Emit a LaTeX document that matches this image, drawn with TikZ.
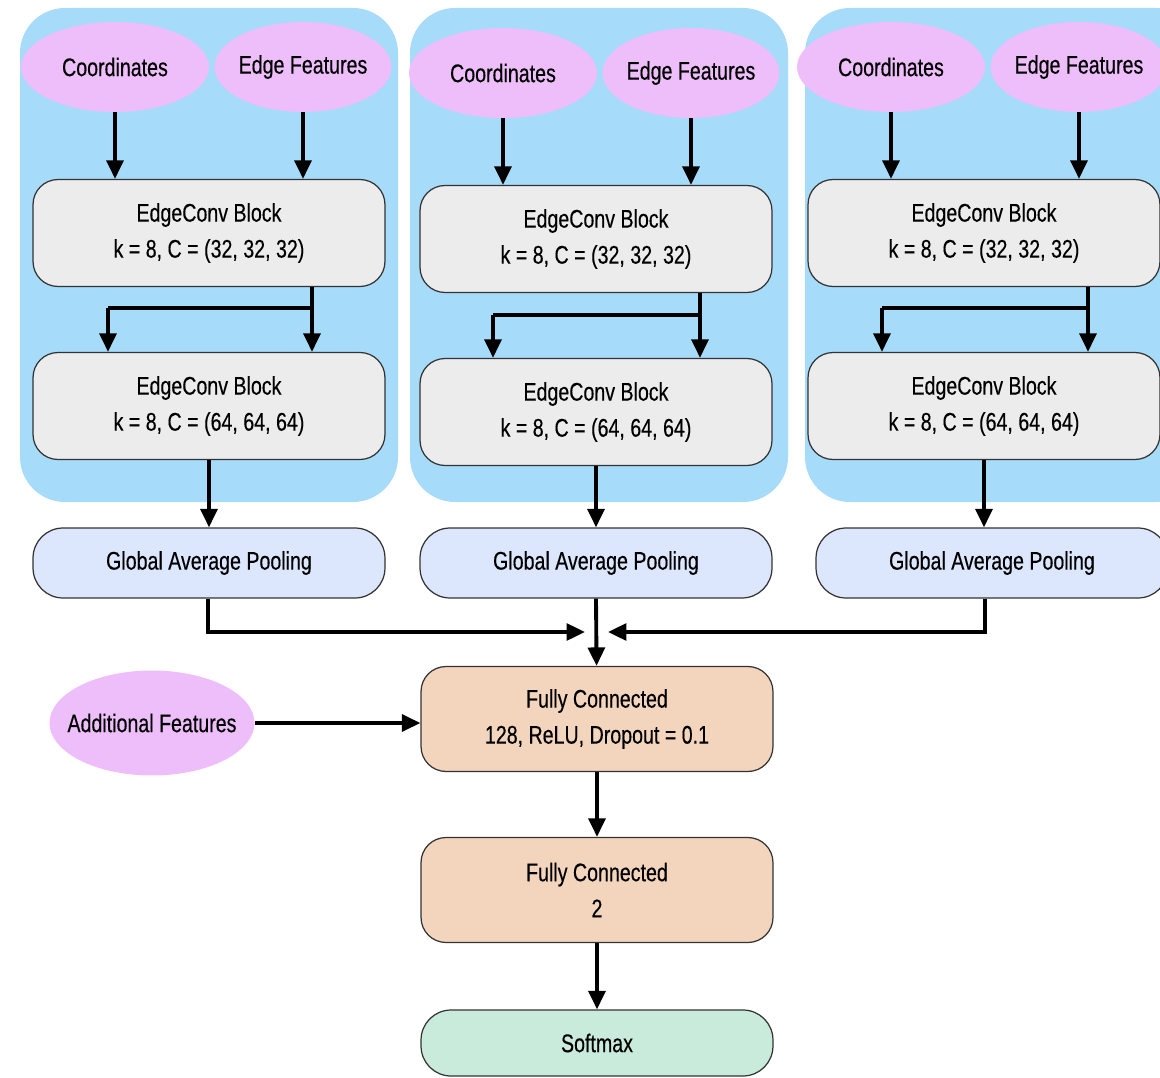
\documentclass[tikz,border=0pt]{standalone}
\usepackage{fontspec}
\setmainfont[FakeStretch=0.77,FakeBold=0.3]{Liberation Sans}
\usepackage{tikz}
\usetikzlibrary{arrows.meta,shapes.geometric}

\definecolor{panelblue}{RGB}{166,219,250}
\definecolor{featpink}{RGB}{238,190,251}
\definecolor{blockgray}{RGB}{236,236,236}
\definecolor{poolblue}{RGB}{220,230,252}
\definecolor{fcpeach}{RGB}{243,212,188}
\definecolor{softgreen}{RGB}{201,235,219}

\tikzset{
  panel/.style={fill=panelblue, rounded corners=0.9cm},
  feat/.style={ellipse, fill=featpink, inner sep=0pt, minimum height=1.8cm,
    font=\fontsize{14.5pt}{20.5pt}\selectfont},
  block/.style={draw=black!80, line width=0.7pt, fill=blockgray, rounded corners=0.5cm,
    minimum width=7.04cm, minimum height=2.14cm, inner sep=0pt, align=center,
    font=\fontsize{14.5pt}{20.5pt}\selectfont},
  pool/.style={block, fill=poolblue, rounded corners=0.6cm, minimum height=1.4cm},
  fcbox/.style={block, fill=fcpeach, minimum height=2.1cm},
  softbox/.style={block, fill=softgreen, rounded corners=0.6cm, minimum height=1.32cm},
  link/.style={line width=2.2pt},
  arrow/.style={link, -{Triangle[length=10.5pt,width=9.5pt]}}
}

\begin{document}
\begin{tikzpicture}[x=0.02cm, y=-0.02cm]
\useasboundingbox (0,0) rectangle (1160,1078);
\clip (0,0) rectangle (1160,1078);

% panels
\fill[panel] (20,8) rectangle (398,502);
\fill[panel] (410,8) rectangle (788,502);
\fill[panel] (805,8) rectangle (1200,502);

% first branch
\node[feat, minimum width=3.76cm] (c1) at (115,67) {Coordinates};
\node[feat, minimum width=3.54cm, inner xsep=-3pt] (e1) at (303,67) {Edge Features};
\node[block] (b1a) at (209,233) {EdgeConv Block\\k = 8, C = (32, 32, 32)};
\node[block] (b1b) at (209,406) {EdgeConv Block\\k = 8, C = (64, 64, 64)};
\node[pool] (g1) at (209,563) {Global Average Pooling};
\draw[arrow] (c1) -- (c1 |- b1a.north);
\draw[arrow] (e1) -- (e1 |- b1a.north);
\coordinate (s1) at (312,308);
\coordinate (t1) at (108,308);
\draw[link] (s1 |- b1a.south) -- (s1) -- (t1);
\draw[arrow] (s1) -- (s1 |- b1b.north);
\draw[arrow] (t1) -- (t1 |- b1b.north);
\draw[arrow] (b1b) -- (g1);

% second branch
\node[feat, minimum width=3.76cm] (c2) at (503,73) {Coordinates};
\node[feat, minimum width=3.54cm, inner xsep=-3pt] (e2) at (691,73) {Edge Features};
\node[block] (b2a) at (596,239) {EdgeConv Block\\k = 8, C = (32, 32, 32)};
\node[block] (b2b) at (596,412) {EdgeConv Block\\k = 8, C = (64, 64, 64)};
\node[pool] (g2) at (596,563) {Global Average Pooling};
\draw[arrow] (c2) -- (c2 |- b2a.north);
\draw[arrow] (e2) -- (e2 |- b2a.north);
\coordinate (s2) at (700,315);
\coordinate (t2) at (493,315);
\draw[link] (s2 |- b2a.south) -- (s2) -- (t2);
\draw[arrow] (s2) -- (s2 |- b2b.north);
\draw[arrow] (t2) -- (t2 |- b2b.north);
\draw[arrow] (b2b) -- (g2);

% third branch
\node[feat, minimum width=3.76cm] (c3) at (891,67) {Coordinates};
\node[feat, minimum width=3.54cm, inner xsep=-3pt] (e3) at (1079,67) {Edge Features};
\node[block] (b3a) at (984,233) {EdgeConv Block\\k = 8, C = (32, 32, 32)};
\node[block] (b3b) at (984,406) {EdgeConv Block\\k = 8, C = (64, 64, 64)};
\node[pool] (g3) at (992,563) {Global Average Pooling};
\draw[arrow] (c3) -- (c3 |- b3a.north);
\draw[arrow] (e3) -- (e3 |- b3a.north);
\coordinate (s3) at (1088,308);
\coordinate (t3) at (882,308);
\draw[link] (s3 |- b3a.south) -- (s3) -- (t3);
\draw[arrow] (s3) -- (s3 |- b3b.north);
\draw[arrow] (t3) -- (t3 |- b3b.north);
\draw[arrow] (b3b) -- (b3b |- g3.north);

% head
\node[fcbox] (fc1) at (597,719) {Fully Connected\\128, ReLU, Dropout = 0.1};
\node[feat, minimum width=4.1cm, minimum height=2.1cm, inner xsep=-9pt] (add) at (152,723) {Additional Features};
\node[fcbox] (fc2) at (597,890) {Fully Connected\\2};
\node[softbox] (soft) at (597,1043) {Softmax};

\coordinate (m1) at (208,632);
\coordinate (m3) at (985,632);
\draw[arrow] (m1 |- g1.south) -- (m1) -- (585,632);
\draw[arrow] (m3 |- g3.south) -- (m3) -- (608,632);
\draw[arrow] (g2.south) -- (fc1);
\draw[arrow] (add) -- (add -| fc1.west);
\draw[arrow] (fc1) -- (fc2);
\draw[arrow] (fc2) -- (soft);
\end{tikzpicture}
\end{document}
